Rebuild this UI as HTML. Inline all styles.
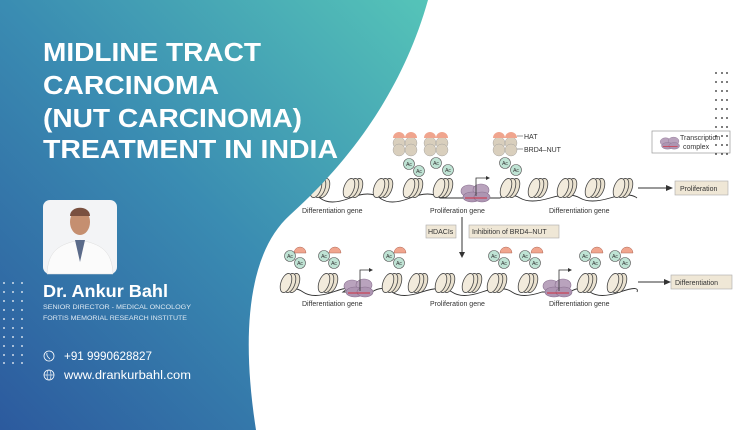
<!DOCTYPE html>
<html><head><meta charset="utf-8"><style>
html,body{margin:0;padding:0;}
body{width:737px;height:430px;overflow:hidden;position:relative;background:#fff;font-family:"Liberation Sans",sans-serif;}
svg{position:absolute;left:0;top:0;}
</style></head><body>
<svg width="737" height="430" viewBox="0 0 737 430" xmlns="http://www.w3.org/2000/svg">
<defs>
<linearGradient id="bg" x1="0" y1="1" x2="1" y2="0">
<stop offset="0" stop-color="#2c5a9e"/>
<stop offset="0.5" stop-color="#3a8cb2"/>
<stop offset="1" stop-color="#55c4b8"/>
</linearGradient>
<g id="nuc">
<ellipse cx="4" cy="0" rx="5" ry="10" fill="#e9e1cf" stroke="#444" stroke-width="0.8" transform="rotate(20 4 0)"/>
<ellipse cx="0" cy="0" rx="5" ry="10" fill="#ece4d2" stroke="#444" stroke-width="0.8" transform="rotate(20 0 0)"/>
<ellipse cx="-4" cy="0" rx="5" ry="10" fill="#f2ebdc" stroke="#444" stroke-width="0.8" transform="rotate(20 -4 0)"/>
</g>
<g id="ac">
<circle r="5.5" fill="#bfe3d4" stroke="#555" stroke-width="0.6"/>
</g>
<g id="tc">
<ellipse cx="-6" cy="-2" rx="8" ry="6" fill="#b9a3bd" stroke="#8a7090" stroke-width="0.6"/>
<ellipse cx="6" cy="-3" rx="8" ry="6" fill="#b9a3bd" stroke="#8a7090" stroke-width="0.6"/>
<ellipse cx="-3" cy="4" rx="9" ry="5" fill="#ad95b2" stroke="#8a7090" stroke-width="0.6"/>
<ellipse cx="7" cy="4" rx="8" ry="5" fill="#ad95b2" stroke="#8a7090" stroke-width="0.6"/>
<line x1="-10" y1="5" x2="12" y2="5" stroke="#d23040" stroke-width="1"/>
</g>
<g id="hat">
<path d="M-6 0 a6 6 0 0 1 12 0 z" fill="#f0a58e" stroke="#b06a5a" stroke-width="0.5"/>
</g>
<g id="hatgrp">
<circle cx="-6" cy="9" r="6" fill="#d9cfbd" stroke="#999" stroke-width="0.4"/>
<circle cx="6" cy="9" r="6" fill="#d9cfbd" stroke="#999" stroke-width="0.4"/>
<circle cx="-6" cy="16" r="6" fill="#d9cfbd" stroke="#999" stroke-width="0.4"/>
<circle cx="6" cy="16" r="6" fill="#d9cfbd" stroke="#999" stroke-width="0.4"/>
<path d="M-12 4 a6 6 0 0 1 12 0 z" fill="#f0a58e"/>
<path d="M0 4 a6 6 0 0 1 12 0 z" fill="#f0a58e"/>
</g>
</defs>

<!-- Diagram (right) -->
<g font-family="Liberation Sans, sans-serif" font-size="7" fill="#333">
<!-- top row -->
<path d="M300 198 Q 310 190 320 198 T 350 198 T 380 198 T 410 198 T 440 198 L 500 198 Q 510 192 520 198 T 550 198 T 580 198 T 610 198 T 637 198" fill="none" stroke="#333" stroke-width="0.9"/>
<use href="#nuc" x="320" y="188"/><use href="#nuc" x="353" y="188"/><use href="#nuc" x="383" y="188"/>
<use href="#nuc" x="413" y="188"/><use href="#nuc" x="443" y="188"/><use href="#nuc" x="510" y="188"/>
<use href="#nuc" x="538" y="188"/><use href="#nuc" x="567" y="188"/><use href="#nuc" x="595" y="188"/><use href="#nuc" x="623" y="188"/>
<use href="#tc" x="475" y="193"/>
<path d="M476 196 V178 H488" fill="none" stroke="#333" stroke-width="0.8"/><path d="M486 176 L490 178 L486 180 z" fill="#333"/>
<use href="#hatgrp" x="405" y="134"/><use href="#hatgrp" x="436" y="134"/><use href="#hatgrp" x="505" y="134"/>
<line x1="517" y1="136" x2="523" y2="136" stroke="#333" stroke-width="0.5"/><text x="524" y="139">HAT</text>
<line x1="517" y1="149" x2="523" y2="149" stroke="#333" stroke-width="0.5"/><text x="524" y="152">BRD4–NUT</text>
<use href="#ac" x="409" y="164"/><use href="#ac" x="419" y="171"/><use href="#ac" x="436" y="163"/><use href="#ac" x="448" y="170"/><use href="#ac" x="505" y="163"/><use href="#ac" x="516" y="170"/>
<g font-size="5" text-anchor="middle"><text x="409" y="166">Ac</text><text x="419" y="173">Ac</text><text x="436" y="165">Ac</text><text x="448" y="172">Ac</text><text x="505" y="165">Ac</text><text x="516" y="172">Ac</text></g>
<text x="302" y="213">Differentiation gene</text><text x="430" y="213">Proliferation gene</text><text x="549" y="213">Differentiation gene</text>
<line x1="638" y1="188" x2="668" y2="188" stroke="#333" stroke-width="1"/><path d="M666 185 L673 188 L666 191 z" fill="#333"/>
<rect x="675" y="181" width="53" height="14" fill="#efe7d6" stroke="#aaa" stroke-width="0.6"/><text x="680" y="191">Proliferation</text>
<!-- legend -->
<rect x="652" y="131" width="78" height="22" fill="#fff" stroke="#999" stroke-width="0.7"/>
<use href="#tc" x="668" y="142" transform="translate(222 48) scale(0.67)"/>
<text x="680" y="140">Transcription</text><text x="683" y="149">complex</text>
<!-- middle -->
<line x1="462" y1="217" x2="462" y2="253" stroke="#333" stroke-width="1"/><path d="M459 252 L462 258 L465 252 z" fill="#333"/>
<rect x="426" y="225" width="30" height="13" fill="#efe7d6" stroke="#aaa" stroke-width="0.6"/><text x="428" y="234">HDACIs</text>
<rect x="469" y="225" width="90" height="13" fill="#efe7d6" stroke="#aaa" stroke-width="0.6"/><text x="472" y="234">Inhibition of BRD4–NUT</text>
<!-- bottom row -->
<path d="M283 292 Q 293 285 303 292 T 333 292 T 343 292 L 372 292 Q 382 285 392 292 T 422 292 T 452 292 T 482 292 T 512 292 T 542 292 L 570 292 Q 580 285 590 292 T 620 292 T 637 292" fill="none" stroke="#333" stroke-width="0.9"/>
<use href="#nuc" x="290" y="283"/><use href="#nuc" x="328" y="283"/><use href="#nuc" x="392" y="283"/><use href="#nuc" x="418" y="283"/>
<use href="#nuc" x="445" y="283"/><use href="#nuc" x="472" y="283"/><use href="#nuc" x="497" y="283"/><use href="#nuc" x="528" y="283"/>
<use href="#nuc" x="587" y="283"/><use href="#nuc" x="617" y="283"/>
<use href="#tc" x="358" y="288"/><use href="#tc" x="557" y="288"/>
<path d="M360 291 V270 H371" fill="none" stroke="#333" stroke-width="0.8"/><path d="M369 268 L373 270 L369 272 z" fill="#333"/>
<path d="M559 291 V270 H570" fill="none" stroke="#333" stroke-width="0.8"/><path d="M568 268 L572 270 L568 272 z" fill="#333"/>
<use href="#hat" x="300" y="253"/><use href="#hat" x="335" y="253"/><use href="#hat" x="400" y="253"/><use href="#hat" x="506" y="253"/><use href="#hat" x="537" y="253"/><use href="#hat" x="597" y="253"/><use href="#hat" x="627" y="253"/>
<use href="#ac" x="290" y="256"/><use href="#ac" x="300" y="263"/><use href="#ac" x="324" y="256"/><use href="#ac" x="334" y="263"/><use href="#ac" x="389" y="256"/><use href="#ac" x="399" y="263"/>
<use href="#ac" x="494" y="256"/><use href="#ac" x="504" y="263"/><use href="#ac" x="525" y="256"/><use href="#ac" x="535" y="263"/><use href="#ac" x="585" y="256"/><use href="#ac" x="595" y="263"/><use href="#ac" x="615" y="256"/><use href="#ac" x="625" y="263"/>
<g font-size="5" text-anchor="middle"><text x="290" y="258">Ac</text><text x="300" y="265">Ac</text><text x="324" y="258">Ac</text><text x="334" y="265">Ac</text><text x="389" y="258">Ac</text><text x="399" y="265">Ac</text><text x="494" y="258">Ac</text><text x="504" y="265">Ac</text><text x="525" y="258">Ac</text><text x="535" y="265">Ac</text><text x="585" y="258">Ac</text><text x="595" y="265">Ac</text><text x="615" y="258">Ac</text><text x="625" y="265">Ac</text></g>
<text x="302" y="306">Differentiation gene</text><text x="430" y="306">Proliferation gene</text><text x="549" y="306">Differentiation gene</text>
<line x1="638" y1="282" x2="666" y2="282" stroke="#333" stroke-width="1"/><path d="M664 279 L671 282 L664 285 z" fill="#333"/>
<rect x="671" y="275" width="61" height="14" fill="#efe7d6" stroke="#aaa" stroke-width="0.6"/><text x="675" y="285">Differentiation</text>
</g>

<!-- blue curved panel -->
<path d="M0 0 H428 C 400 100 340 170 290 215 C 240 260 245 360 256 430 H0 Z" fill="url(#bg)"/>

<!-- dots -->
<g fill="#fff">
<g id="dl"><circle cx="4" cy="283" r="0.9"/><circle cx="13" cy="283" r="0.9"/><circle cx="22" cy="283" r="0.9"/></g>
<use href="#dl" y="9"/><use href="#dl" y="18"/><use href="#dl" y="27"/><use href="#dl" y="36"/><use href="#dl" y="45"/><use href="#dl" y="54"/><use href="#dl" y="63"/><use href="#dl" y="72"/><use href="#dl" y="80"/>
</g>
<g fill="#222">
<g id="dr"><circle cx="716" cy="73" r="0.9"/><circle cx="722" cy="73" r="0.9"/><circle cx="727" cy="73" r="0.9"/></g>
<use href="#dr" y="9"/><use href="#dr" y="18"/><use href="#dr" y="27"/><use href="#dr" y="36"/><use href="#dr" y="45"/><use href="#dr" y="54"/><use href="#dr" y="63"/><use href="#dr" y="72"/><use href="#dr" y="81"/>
</g>

<!-- title -->
<g fill="#fff" font-family="Liberation Sans, sans-serif" font-weight="bold" font-size="25.5">
<text x="43" y="61" textLength="218" lengthAdjust="spacingAndGlyphs">MIDLINE TRACT</text>
<text x="43" y="94" textLength="176" lengthAdjust="spacingAndGlyphs">CARCINOMA</text>
<text x="43" y="127" textLength="259" lengthAdjust="spacingAndGlyphs">(NUT CARCINOMA)</text>
<text x="43" y="158" textLength="295" lengthAdjust="spacingAndGlyphs">TREATMENT IN INDIA</text>
</g>

<!-- photo -->
<rect x="43" y="200" width="74" height="74" rx="7" fill="#f3f4f6"/>
<path d="M47 274 C 48 250 60 244 80 240 C 100 244 112 250 113 274 Z" fill="#fbfbfb" stroke="#ddd" stroke-width="0.5"/>
<path d="M75 240 L80 262 L85 240 Z" fill="#5b6b8a"/>
<ellipse cx="80" cy="222" rx="10" ry="13" fill="#c58f70"/>
<path d="M70 216 C 70 205 90 205 90 216 Z" fill="#7a5040"/>

<!-- name -->
<g fill="#fff" font-family="Liberation Sans, sans-serif">
<text x="43" y="297" font-size="17.5" font-weight="bold" textLength="125" lengthAdjust="spacingAndGlyphs">Dr. Ankur Bahl</text>
<text x="43" y="309" font-size="6.2" fill="#dfeaf3" textLength="148" lengthAdjust="spacingAndGlyphs">SENIOR DIRECTOR - MEDICAL ONCOLOGY</text>
<text x="43" y="320" font-size="6.2" fill="#dfeaf3" textLength="144" lengthAdjust="spacingAndGlyphs">FORTIS MEMORIAL RESEARCH INSTITUTE</text>
<circle cx="49" cy="356" r="5" fill="none" stroke="#fff" stroke-width="0.8"/>
<path d="M47 353 q-1 3 3 6" fill="none" stroke="#fff" stroke-width="0.8"/>
<text x="64" y="360" font-size="11.5" textLength="88" lengthAdjust="spacingAndGlyphs">+91 9990628827</text>
<circle cx="49" cy="375" r="5" fill="none" stroke="#fff" stroke-width="0.8"/>
<line x1="44" y1="375" x2="54" y2="375" stroke="#fff" stroke-width="0.6"/>
<ellipse cx="49" cy="375" rx="2" ry="5" fill="none" stroke="#fff" stroke-width="0.6"/>
<text x="64" y="379" font-size="11.5" textLength="127" lengthAdjust="spacingAndGlyphs">www.drankurbahl.com</text>
</g>
</svg>
</body></html>
